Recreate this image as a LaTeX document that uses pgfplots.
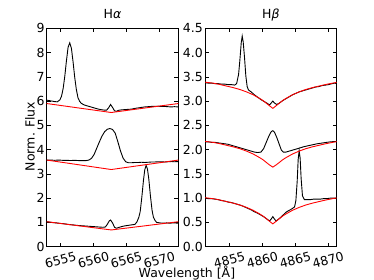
\documentclass[border=0pt]{standalone}
\usepackage{fontspec}
\setmainfont{DejaVu Sans}
\usepackage{pgfplots}
\pgfplotsset{compat=1.18}
\begin{document}
\fontsize{12.5}{14}\selectfont
\begin{tikzpicture}
\path[use as bounding box] (0,0) rectangle (374pt,280pt);
\pgfplotsset{
  every axis/.append style={
    scale only axis,
    anchor=south west,
    width=131.7pt, height=218.4pt,
    axis line style={line width=0.8pt},
    tick style={line width=0.6pt, black},
    major tick length=4pt,
    /pgf/number format/assume math mode=true,
    /pgf/number format/1000 sep={},
    scaled x ticks=false, scaled y ticks=false,
    xticklabel style={yshift=-13.5pt, rotate=15, anchor=center, font=\fontsize{12.5}{14}\selectfont},
    yticklabel style={inner xsep=2pt, font=\fontsize{12.5}{14}\selectfont},
    title style={at={(0.5,1)}, anchor=base, yshift=3.5pt, font=\fontsize{12.5}{14}\selectfont},
    label style={font=\fontsize{12.5}{14}\selectfont},
  }
}
% ---------------- H alpha ----------------
\begin{axis}[
  at={(46.7pt,33.3pt)},
  xmin=6552.9, xmax=6572.9, ymin=0, ymax=9,
  xtick={6555,6560,6565,6570},
  ytick={0,1,2,3,4,5,6,7,8,9},
  title={H{\itshape α}},
  ylabel={Norm. Flux},
  ylabel style={at={(axis description cs:-0.127,0.505)}, anchor=center},
  xlabel={Wavelength [Å]},
  xlabel style={at={(axis description cs:1.065,-0.122)}, anchor=center},
]
\addplot[black, line width=0.9pt] table {
6552.9 6.04
6553.3 6.02
6553.7 6.00
6554.1 5.98
6554.5 5.97
6554.9 6.05
6555.15 6.20
6555.4 6.52
6555.65 7.03
6555.9 7.67
6556.15 8.22
6556.4 8.40
6556.65 8.18
6556.9 7.63
6557.15 6.99
6557.4 6.48
6557.65 6.14
6557.9 5.99
6558.15 5.91
6558.6 5.84
6559.1 5.80
6559.6 5.76
6560.1 5.72
6560.6 5.68
6561.1 5.65
6561.6 5.63
6562.0 5.63
6562.3 5.72
6562.6 5.86
6562.9 5.74
6563.2 5.60
6563.5 5.58
6563.8 5.62
6564.3 5.64
6564.8 5.65
6565.3 5.66
6565.8 5.67
6566.3 5.70
6566.8 5.72
6567.3 5.74
6567.8 5.76
6568.3 5.77
6568.8 5.78
6569.3 5.78
6569.8 5.79
6570.3 5.78
6570.8 5.78
6571.3 5.77
6571.8 5.76
6572.3 5.77
6572.9 5.76
};
\addplot[black, line width=0.9pt] table {
6552.9 3.57
6553.5 3.57
6554.1 3.56
6554.7 3.57
6555.3 3.56
6555.9 3.56
6556.5 3.55
6557.1 3.56
6557.7 3.55
6558.3 3.55
6558.9 3.55
6559.3 3.57
6559.7 3.64
6560.1 3.80
6560.5 4.06
6560.9 4.32
6561.3 4.56
6561.7 4.74
6562.1 4.84
6562.5 4.87
6562.9 4.83
6563.3 4.68
6563.7 4.33
6564.1 3.95
6564.5 3.65
6564.9 3.50
6565.3 3.46
6565.8 3.46
6566.3 3.47
6566.8 3.47
6567.3 3.48
6567.8 3.47
6568.3 3.48
6568.8 3.49
6569.3 3.49
6569.8 3.50
6570.3 3.50
6570.8 3.49
6571.3 3.50
6571.8 3.51
6572.3 3.50
6572.9 3.51
};
\addplot[black, line width=0.9pt] table {
6552.9 1.03
6553.4 1.01
6553.9 0.99
6554.4 0.98
6554.9 0.96
6555.4 0.95
6555.9 0.93
6556.4 0.91
6556.9 0.90
6557.4 0.88
6557.9 0.87
6558.4 0.86
6558.9 0.85
6559.4 0.84
6559.9 0.83
6560.4 0.82
6560.9 0.81
6561.4 0.80
6561.8 0.81
6562.1 0.92
6562.4 1.06
6562.6 1.10
6562.9 0.98
6563.2 0.80
6563.5 0.76
6563.8 0.79
6564.3 0.83
6564.8 0.86
6565.3 0.88
6565.8 0.90
6566.3 0.92
6566.6 1.02
6566.9 1.22
6567.1 1.45
6567.35 2.05
6567.6 2.75
6567.8 3.18
6568.0 3.35
6568.2 3.20
6568.4 2.80
6568.65 2.10
6568.9 1.50
6569.1 1.22
6569.35 1.08
6569.6 1.00
6570.1 0.98
6570.6 0.97
6571.1 0.98
6571.6 0.97
6572.1 0.98
6572.9 0.97
};
\addplot[red, line width=0.9pt] coordinates {(6552.9,5.90) (6562.7,5.53) (6572.9,5.90)};
\addplot[red, line width=0.9pt] coordinates {(6552.9,3.57) (6562.7,3.18) (6572.9,3.57)};
\addplot[red, line width=0.9pt] coordinates {(6552.9,1.03) (6562.7,0.69) (6572.9,1.03)};
\end{axis}
% ---------------- H beta ----------------
\begin{axis}[
  at={(205pt,33.3pt)},
  xmin=4851.3, xmax=4871.3, ymin=0, ymax=4.5,
  xtick={4855,4860,4865,4870},
  ytick={0,0.5,1,1.5,2,2.5,3,3.5,4,4.5},
  yticklabel style={/pgf/number format/.cd, fixed, fixed zerofill, precision=1},
  title={H{\itshape β}},
]
\addplot[black, line width=0.9pt] table {
4851.3 3.38
4851.8 3.37
4852.3 3.37
4852.8 3.36
4853.3 3.36
4853.8 3.35
4854.3 3.35
4854.8 3.34
4855.3 3.34
4855.8 3.33
4856.1 3.36
4856.4 3.55
4856.6 3.85
4856.8 4.20
4856.95 4.34
4857.1 4.22
4857.3 3.90
4857.5 3.52
4857.7 3.30
4857.9 3.23
4858.3 3.19
4858.8 3.13
4859.3 3.08
4859.8 3.03
4860.3 2.99
4860.8 2.95
4861.1 2.92
4861.35 2.96
4861.6 3.00
4861.85 2.96
4862.2 2.93
4862.6 2.96
4863.1 3.01
4863.6 3.05
4864.1 3.09
4864.6 3.13
4865.1 3.16
4865.6 3.19
4866.1 3.21
4866.6 3.23
4867.1 3.25
4867.6 3.27
4868.1 3.29
4868.6 3.30
4869.1 3.32
4869.6 3.33
4870.1 3.34
4870.6 3.36
4871.0 3.37
4871.3 3.36
};
\addplot[black, line width=0.9pt] table {
4851.3 2.16
4851.8 2.16
4852.3 2.15
4852.8 2.15
4853.3 2.14
4853.8 2.13
4854.3 2.12
4854.8 2.11
4855.3 2.09
4855.8 2.07
4856.3 2.05
4856.8 2.03
4857.3 2.01
4857.8 1.99
4858.3 1.97
4858.8 1.95
4859.3 1.94
4859.8 1.95
4860.2 2.02
4860.6 2.15
4861.0 2.28
4861.35 2.37
4861.6 2.39
4861.85 2.36
4862.2 2.25
4862.6 2.10
4862.9 1.99
4863.2 1.95
4863.6 1.95
4864.1 1.97
4864.6 1.99
4865.1 2.01
4865.6 2.03
4866.3 2.06
4867.3 2.09
4868.3 2.12
4869.3 2.14
4870.3 2.16
4871.3 2.17
};
\addplot[black, line width=0.9pt] table {
4851.3 1.00
4851.8 0.99
4852.3 0.99
4852.8 0.98
4853.3 0.97
4853.8 0.95
4854.3 0.94
4854.8 0.92
4855.3 0.91
4855.8 0.89
4856.3 0.87
4856.8 0.85
4857.3 0.82
4857.8 0.79
4858.3 0.76
4858.8 0.72
4859.3 0.69
4859.8 0.65
4860.3 0.61
4860.8 0.56
4861.1 0.53
4861.35 0.57
4861.6 0.62
4861.85 0.57
4862.1 0.53
4862.5 0.57
4862.9 0.62
4863.3 0.67
4863.7 0.72
4864.1 0.75
4864.5 0.78
4864.9 0.82
4865.1 0.95
4865.3 1.35
4865.45 1.80
4865.6 1.98
4865.75 1.82
4865.9 1.40
4866.1 1.05
4866.4 0.97
4866.8 0.97
4867.3 0.97
4867.8 0.98
4868.3 0.98
4868.8 0.98
4869.3 0.99
4869.8 0.99
4870.3 1.00
4870.8 1.00
4871.3 1.00
};
\addplot[red, line width=0.9pt] table {
4851.3 3.390
4852.6 3.368
4853.6 3.341
4854.6 3.309
4855.6 3.277
4856.6 3.239
4857.6 3.190
4858.6 3.131
4859.6 3.055
4860.1 3.012
4860.6 2.958
4861.1 2.904
4861.6 2.850
4862.1 2.904
4862.6 2.958
4863.1 3.012
4863.6 3.055
4864.6 3.131
4865.6 3.190
4866.6 3.239
4867.6 3.277
4868.6 3.309
4869.6 3.341
4870.6 3.368
4871.3 3.385
};
\addplot[red, line width=0.9pt] table {
4851.3 2.170
4852.6 2.148
4853.6 2.121
4854.6 2.089
4855.6 2.057
4856.6 2.019
4857.6 1.970
4858.6 1.911
4859.6 1.835
4860.1 1.792
4860.6 1.738
4861.1 1.684
4861.6 1.640
4862.1 1.684
4862.6 1.738
4863.1 1.792
4863.6 1.835
4864.6 1.911
4865.6 1.970
4866.6 2.019
4867.6 2.057
4868.6 2.089
4869.6 2.121
4870.6 2.148
4871.3 2.165
};
\addplot[red, line width=0.9pt] table {
4851.3 1.010
4852.6 0.988
4853.6 0.961
4854.6 0.929
4855.6 0.897
4856.6 0.859
4857.6 0.810
4858.6 0.751
4859.6 0.675
4860.1 0.632
4860.6 0.578
4861.1 0.524
4861.6 0.470
4862.1 0.524
4862.6 0.578
4863.1 0.632
4863.6 0.675
4864.6 0.751
4865.6 0.810
4866.6 0.859
4867.6 0.897
4868.6 0.929
4869.6 0.961
4870.6 0.988
4871.3 1.005
};
\end{axis}
\end{tikzpicture}
\end{document}
